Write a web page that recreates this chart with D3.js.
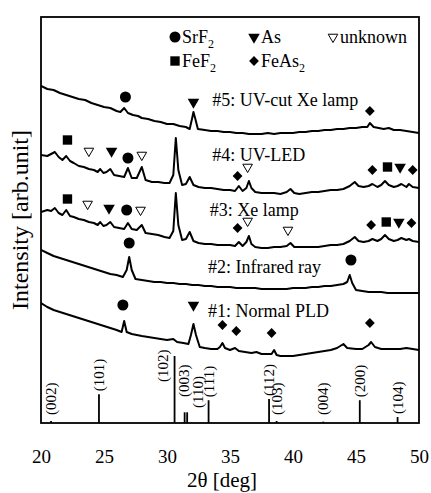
<!DOCTYPE html>
<html>
<head>
<meta charset="utf-8">
<script src="https://cdn.jsdelivr.net/npm/d3@7"></script>
<style>
    body { margin: 0; background: #fff; }
    text { font-family: "Liberation Serif", "Times New Roman", serif; fill: #000; }
</style>
</head>
<body>
<div id="xrd-chart"></div>
<script>
// x axis ticks (2theta)
const thetaTicks = [20, 25, 30, 35, 40, 45, 50];

// measured patterns, [2theta, intensity] (already offset for stacking)
const curve5 = [[20,337],[20.5,334],[21,333],[21.5,330],[22,328],[22.5,326],[23,324],[23.5,323],[24,320],[24.5,318],[25,316],[25.5,315],[26,312],[26.3,311],[26.6,315],[26.9,310],[27.3,308],[27.7,307],[28,305],[28.5,304],[29,302],[29.5,301],[30,299],[30.5,299],[31,297],[31.5,296],[31.8,294],[32.0,305],[32.1,311],[32.25,304],[32.45,294],[33,293],[33.5,292],[34,292],[34.5,291],[35,291],[35.5,290],[36,290],[36.5,289],[37,289],[37.5,289],[38,290],[38.5,289],[39,290],[39.5,290],[40,290],[40.5,291],[41,291],[41.5,292],[42,292],[42.5,293],[43,293],[43.5,294],[44,294],[44.5,295],[45,295],[45.5,296],[45.9,296],[46.1,300],[46.4,296],[46.8,295],[47.2,294],[47.6,295],[48,293],[48.5,293],[49,292],[49.5,291],[50,290]];
const curve4 = [[20,268],[20.5,267],[20.8,269],[21.1,271],[21.4,266],[21.7,263],[22.0,267],[22.3,262],[22.6,260],[23,257],[23.4,256],[23.8,254],[24.2,253],[24.5,251],[24.7,254],[24.95,250],[25.2,251],[25.5,254],[25.8,248],[26.2,247],[26.6,246],[26.9,255],[27.2,245],[27.6,245],[28.0,256],[28.3,243],[28.8,241],[29.3,241],[29.8,240],[30.2,240],[30.5,248],[30.7,285],[30.9,253],[31.2,238],[31.5,239],[31.8,246],[32.1,238],[32.5,236],[33,235],[33.5,235],[34,234],[34.5,233],[35,233],[35.4,232],[35.7,237],[36.0,232],[36.3,235],[36.5,242],[36.7,235],[37,231],[37.5,230],[38,230],[38.5,230],[39,229],[39.5,231],[39.8,234],[40.1,230],[40.5,229],[41,230],[41.5,231],[42,231],[42.5,232],[43,233],[43.5,233],[44,234],[44.5,237],[44.9,241],[45.2,237],[45.6,236],[46,237],[46.3,239],[46.7,236],[47,238],[47.3,242],[47.6,238],[48,236],[48.3,237],[48.6,239],[49,236],[49.2,239],[49.5,236],[50,235]];
const curve3 = [[20,211],[20.5,213],[20.8,212],[21.1,215],[21.4,210],[21.7,208],[22.0,213],[22.3,207],[22.6,206],[23,204],[23.4,203],[23.8,201],[24.2,200],[24.5,198],[24.7,201],[24.95,197],[25.2,198],[25.5,201],[25.8,196],[26.2,195],[26.6,194],[26.9,200],[27.2,194],[27.6,193],[28.0,198],[28.3,190],[28.8,189],[29.3,188],[29.8,186],[30.2,185],[30.5,192],[30.7,230],[30.9,198],[31.2,183],[31.5,184],[31.8,191],[32.1,182],[32.5,180],[33,179],[33.5,179],[34,178],[34.5,178],[35,178],[35.4,177],[35.7,181],[36.0,177],[36.3,181],[36.5,187],[36.7,179],[37,176],[37.5,175],[38,175],[38.5,176],[39,176],[39.5,177],[39.8,180],[40.1,176],[40.5,176],[41,176],[41.5,176],[42,176],[42.5,177],[43,178],[43.5,178],[44,179],[44.5,182],[44.9,186],[45.2,182],[45.6,181],[46,182],[46.3,184],[46.7,182],[47,184],[47.3,188],[47.6,184],[48,182],[48.3,183],[48.6,185],[49,183],[49.2,184],[49.5,182],[50,181]];
const curve2 = [[20,173],[20.5,170],[21,167],[21.5,165],[22,163],[22.5,161],[23,159],[23.5,157],[24,155],[24.5,153],[25,151],[25.5,149],[26,148],[26.5,146],[26.8,153],[27.0,166],[27.2,153],[27.5,144],[28,143],[28.5,142],[29,141],[29.5,141],[30,140],[30.5,140],[31,139],[31.5,139],[32,138],[32.5,138],[33,137],[33.5,137],[34,136],[34.5,136],[35,136],[35.5,135],[36,135],[36.5,135],[37,135],[37.5,134],[38,134],[38.5,134],[39,134],[39.5,134],[40,135],[40.5,135],[41,135],[41.5,136],[42,136],[42.5,137],[43,137],[43.5,138],[44,139],[44.3,141],[44.5,148],[44.7,140],[45,133],[45.5,132],[46,131],[46.5,131],[47,131],[47.5,130],[48,130],[48.5,130],[49,130],[49.5,130],[50,130]];
const curve1 = [[20,120],[20.5,116],[21,113],[21.5,111],[22,109],[22.5,107],[23,105],[23.5,103],[24,101],[24.5,99],[25,97],[25.5,95],[26,93],[26.4,91],[26.6,102],[26.8,91],[27.2,89],[27.6,88],[28,87],[28.5,86],[29,85],[29.5,84],[30,83],[30.5,84],[30.8,81],[31.3,80],[31.7,79],[31.9,88],[32.1,99],[32.3,88],[32.6,76],[33,75],[33.5,74],[34,74],[34.2,76],[34.4,80],[34.6,75],[35,73],[35.4,75],[35.7,72],[36.2,71],[36.7,70],[37.1,71],[37.5,69],[38,69],[38.3,69],[38.5,73],[38.7,68],[39,67],[39.5,67],[40,67],[40.5,68],[41,69],[41.5,70],[42,71],[42.5,72],[43,73],[43.5,75],[44,79],[44.3,75],[45,74],[45.5,74],[46,78],[46.2,81],[46.5,76],[47,74],[47.5,74],[48,74],[48.5,74],[49,75],[49.5,74],[50,73]];

const sampleNames = ["#5: UV-cut Xe lamp", "#4: UV-LED", "#3: Xe lamp", "#2: Infrared ray", "#1: Normal PLD"];
const sampleCurves = [curve5, curve4, curve3, curve2, curve1];
// where each name sits, [2theta, intensity]
const sampleLabelAt = [[33.6, 317], [33.6, 262], [33.4, 207], [33.25, 150], [33.25, 106]];

// phase peak markers, [2theta, intensity]
const srf2Marks = [[26.7,326],[26.9,265],[26.8,213],[27.0,180],[44.6,163],[26.5,118]];
const asMarks = [[32.1,321],[25.6,272],[48.5,256],[25.4,215],[48.4,201],[32.1,118]];
const unknownMarks = [[23.8,272],[28.0,268],[36.4,256],[23.7,219],[27.9,213],[36.4,202],[39.6,193]];
const fef2Marks = [[22.1,283],[47.5,256],[22.1,224],[47.4,201]];
const feas2Marks = [[46.1,312],[35.6,247],[46.3,253],[49.5,253],[35.6,195],[46.2,198],[49.4,200],[34.4,98],[35.5,92],[38.3,90],[46.1,100]];

// reference pattern (stick lines along the bottom)
const refHkl = ["(002)", "(101)", "(102)", "(003)", "(110)", "(111)", "(112)", "(103)", "(004)", "(200)", "(104)"];
const refTheta = [20.8, 24.6, 30.6, 31.4, 31.6, 33.3, 38.1, 38.7, 42.4, 45.3, 48.3];
const refIntensity = [3, 43, 100, 16, 16, 34, 36, 3, 2, 34, 9];
// hand nudges for crowded labels [dx, bottom y]
const refLabelNudge = { "(102)": [-12, 382], "(003)": [-1, 397], "(110)": [11, 408] };

const W = 431, H = 493;
const margin = { left: 41, right: 12, top: 17, bottom: 70 };

let svg = d3.select("#xrd-chart").append("svg")
    .attr("width", W)
    .attr("height", H);

let x = d3.scaleLinear().domain([20, 50]).range([margin.left, W - margin.right]);
let y = d3.scaleLinear().domain([0, 406]).range([H - margin.bottom, margin.top]);
let refY = d3.scaleLinear().domain([0, 100]).range([0, 67]);

// clip so the curves stay inside the frame
svg.append("clipPath").attr("id", "plot-clip")
    .append("rect")
    .attr("x", x(20)).attr("y", y(406))
    .attr("width", x(50) - x(20)).attr("height", y(0) - y(406));

let line = d3.line()
    .x(d => x(d[0]))
    .y(d => y(d[1]))
    .curve(d3.curveLinear);

svg.append("g")
    .attr("clip-path", "url(#plot-clip)")
    .selectAll("path")
    .data(sampleCurves)
    .enter().append("path")
    .attr("d", line)
    .attr("fill", "none")
    .attr("stroke", "#000")
    .attr("stroke-width", 2)
    .attr("stroke-linejoin", "round");

// sample names
svg.append("g")
    .selectAll("text")
    .data(sampleNames)
    .enter().append("text")
    .attr("x", (d, i) => x(sampleLabelAt[i][0]))
    .attr("y", (d, i) => y(sampleLabelAt[i][1]))
    .style("font-size", "18px")
    .text(d => d);

// marker shapes
const shapes = {
    srf2: { sym: d3.symbolCircle, size: 95, fill: "#000", rot: 0 },
    as: { sym: d3.symbolTriangle, size: 58, fill: "#000", rot: 180 },
    unknown: { sym: d3.symbolTriangle, size: 40, fill: "none", rot: 180 },
    fef2: { sym: d3.symbolSquare, size: 88, fill: "#000", rot: 0 },
    feas2: { sym: d3.symbolSquare, size: 48, fill: "#000", rot: 45 }
};

function drawMarks(key, marks) {
    let s = shapes[key];
    svg.append("g")
        .selectAll("path")
        .data(marks)
        .enter().append("path")
        .attr("d", d3.symbol().type(s.sym).size(s.size))
        .attr("transform", d => "translate(" + x(d[0]) + "," + y(d[1]) + ") rotate(" + s.rot + ")")
        .attr("fill", s.fill)
        .attr("stroke", "#000")
        .attr("stroke-width", s.fill == "none" ? 1 : 0);
}

drawMarks("srf2", srf2Marks);
drawMarks("as", asMarks);
drawMarks("unknown", unknownMarks);
drawMarks("fef2", fef2Marks);
drawMarks("feas2", feas2Marks);

// reference sticks
let refs = refHkl.map((h, i) => ({ hkl: h, theta: refTheta[i], inten: refIntensity[i] }));
let base = y(0);

svg.append("g")
    .selectAll("line")
    .data(refs)
    .enter().append("line")
    .attr("x1", d => x(d.theta))
    .attr("x2", d => x(d.theta))
    .attr("y1", base)
    .attr("y2", d => base - refY(d.inten))
    .attr("stroke", "#000")
    .attr("stroke-width", 1.8);

svg.append("g")
    .selectAll("text")
    .data(refs)
    .enter().append("text")
    .attr("transform", function (d) {
        let nudge = refLabelNudge[d.hkl];
        let lx = x(d.theta) + (nudge ? nudge[0] : 0);
        let ly = nudge ? nudge[1] : Math.min(base - refY(d.inten) - 3, 415);
        return "translate(" + lx + "," + ly + ") rotate(-90)";
    })
    .attr("dy", "0.35em")
    .style("font-size", "15px")
    .text(d => d.hkl);

// legend
const legendKeys = ["srf2", "as", "unknown", "fef2", "feas2"];
const legendNames = [["SrF", "2"], ["As", ""], ["unknown", ""], ["FeF", "2"], ["FeAs", "2"]];
const legendPos = [[175, 37], [254, 37], [333, 37], [175, 61], [254, 61]];

let legend = svg.append("g");
legendKeys.forEach(function (k, i) {
    let s = shapes[k];
    let p = legendPos[i];
    legend.append("path")
        .attr("d", d3.symbol().type(s.sym).size(s.size))
        .attr("transform", "translate(" + p[0] + "," + p[1] + ") rotate(" + s.rot + ")")
        .attr("fill", s.fill)
        .attr("stroke", "#000")
        .attr("stroke-width", s.fill == "none" ? 1 : 0);
    let t = legend.append("text")
        .attr("x", p[0] + 7)
        .attr("y", p[1] + 6)
        .style("font-size", "18px")
        .text(legendNames[i][0]);
    if (legendNames[i][1] != "") {
        t.append("tspan")
            .attr("dy", 5)
            .style("font-size", "12px")
            .text(legendNames[i][1]);
    }
});

// x axis: labels only, no tick marks
let xAxis = svg.append("g")
    .attr("transform", "translate(0," + base + ")")
    .call(d3.axisBottom(x).tickValues(thetaTicks).tickSize(0).tickPadding(27));
xAxis.select(".domain").remove();
xAxis.selectAll("text")
    .style("font-family", "'Liberation Serif', serif")
    .style("font-size", "19px");

svg.append("text")
    .attr("x", 222)
    .attr("y", 487)
    .attr("text-anchor", "middle")
    .style("font-size", "21px")
    .text("2θ [deg]");

svg.append("text")
    .attr("transform", "translate(28," + (y(0) + y(406)) / 2 + ") rotate(-90)")
    .attr("text-anchor", "middle")
    .style("font-size", "24px")
    .text("Intensity [arb.unit]");

// frame
svg.append("rect")
    .attr("x", x(20))
    .attr("y", y(406))
    .attr("width", x(50) - x(20))
    .attr("height", y(0) - y(406))
    .attr("fill", "none")
    .attr("stroke", "#000")
    .attr("stroke-width", 1.8);
</script>
</body>
</html>
